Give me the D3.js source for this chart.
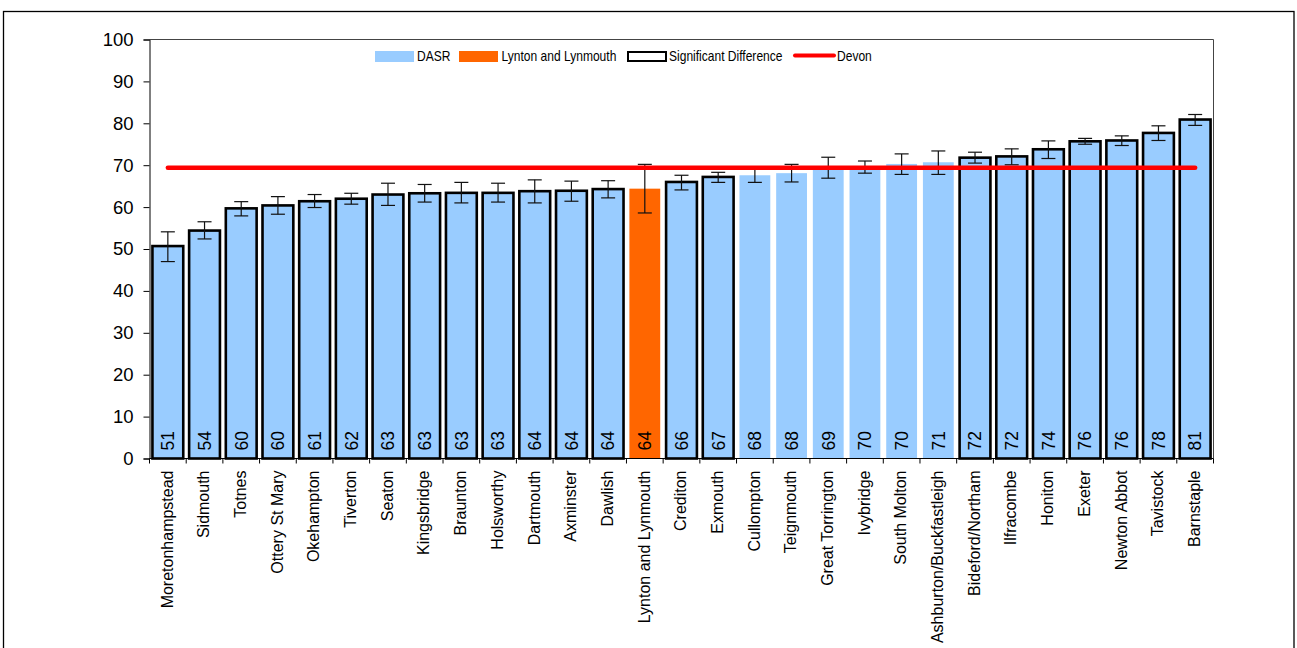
<!DOCTYPE html>
<html>
<head>
<meta charset="utf-8">
<script src="https://cdn.jsdelivr.net/npm/d3@7"></script>
<style>
  html, body { margin: 0; padding: 0; background: #fff; }
  svg { display: block; font-family: "Liberation Sans", Arial, sans-serif; }
</style>
</head>
<body>
<svg id="chart" width="1297" height="648"></svg>
<script>
const categories = ["Moretonhampstead","Sidmouth","Totnes","Ottery St Mary","Okehampton","Tiverton","Seaton","Kingsbridge","Braunton","Holsworthy","Dartmouth","Axminster","Dawlish","Lynton and Lynmouth","Crediton","Exmouth","Cullompton","Teignmouth","Great Torrington","Ivybridge","South Molton","Ashburton/Buckfastleigh","Bideford/Northam","Ilfracombe","Honiton","Exeter","Newton Abbot","Tavistock","Barnstaple"];
const dasr = [50.7,54.4,59.7,60.4,61.4,62.0,63.0,63.3,63.4,63.4,63.8,63.9,64.3,64.4,66.0,67.2,67.6,68.1,69.2,69.6,70.3,70.7,71.8,72.1,73.8,75.7,75.9,77.7,80.9];
const ciLower = [47.0,52.4,57.9,58.3,59.9,60.7,60.4,61.2,61.0,61.2,61.0,61.4,62.2,58.6,64.1,65.9,65.9,66.0,66.9,68.1,67.8,67.8,70.5,70.1,71.6,75.0,74.7,75.9,79.5];
const ciUpper = [54.1,56.5,61.3,62.5,63.0,63.3,65.7,65.4,65.9,65.7,66.5,66.2,66.3,70.2,67.6,68.3,69.4,70.2,71.9,71.0,72.7,73.4,73.1,73.9,75.8,76.4,77.0,79.4,82.1];
const significant = [1,1,1,1,1,1,1,1,1,1,1,1,1,0,1,1,0,0,0,0,0,0,1,1,1,1,1,1,1];
const highlight = "Lynton and Lynmouth";
const devon = 69.4;
const yTicks = [0,10,20,30,40,50,60,70,80,90,100];
const legendLabels = ["DASR","Lynton and Lynmouth","Significant Difference","Devon"];

const svg = d3.select("#chart");
const pLeft = 149.5, pRight = 1213.5, pTop = 39.5, pBottom = 458.5;

// outer frame
svg.append("rect").attr("x",3.5).attr("y",11.5).attr("width",1290.5).attr("height",700)
  .attr("fill","none").attr("stroke","#000").attr("stroke-width",1.3);

const x = d3.scaleBand().domain(categories).range([pLeft, pRight]).paddingInner(0.16).paddingOuter(0.08);
const y = d3.scaleLinear().domain([0,100]).range([pBottom, pTop]);

// plot frame (top and right)
svg.append("path").attr("d",`M${pLeft},${pTop}H${pRight}V${pBottom}`)
  .attr("fill","none").attr("stroke","#444").attr("stroke-width",1);

const data = categories.map((c,i)=>({c, v:dasr[i], lo:ciLower[i], hi:ciUpper[i], sig:significant[i]}));

// bars
const bw = x.bandwidth();
svg.append("g").selectAll("rect").data(data).join("rect")
  .attr("x", d=>x(d.c))
  .attr("y", d=>y(d.v))
  .attr("width", bw)
  .attr("height", d=>y(0)-y(d.v))
  .attr("fill", d=>d.c===highlight ? "#FF6600" : "#99CCFF")
  .attr("stroke", d=>(d.sig && d.c!==highlight) ? "#000" : "none")
  .attr("stroke-width", 2.6);

// error bars
const eb = svg.append("g").attr("stroke","#111").attr("stroke-width",1.2).attr("fill","none");
data.forEach(d=>{
  const cx = x(d.c)+bw/2;
  eb.append("line").attr("x1",cx).attr("x2",cx).attr("y1",y(d.lo)).attr("y2",y(d.hi));
  eb.append("line").attr("x1",cx-7).attr("x2",cx+7).attr("y1",y(d.lo)).attr("y2",y(d.lo));
  eb.append("line").attr("x1",cx-7).attr("x2",cx+7).attr("y1",y(d.hi)).attr("y2",y(d.hi));
});

// value labels
svg.append("g").selectAll("text").data(data).join("text")
  .attr("transform", d=>`translate(${x(d.c)+bw/2},${y(0)-8}) rotate(-90)`)
  .attr("dy","0.36em")
  .attr("text-anchor","start")
  .attr("font-size",17.5)
  .attr("fill","#000")
  .text(d=>Math.round(d.v));

// Devon line
const first = categories[0], last = categories[categories.length-1];
svg.append("line")
  .attr("x1", x(first)+bw/2).attr("x2", x(last)+bw/2)
  .attr("y1", y(devon)).attr("y2", y(devon))
  .attr("stroke","#FF0000").attr("stroke-width",4.5).attr("stroke-linecap","round");

// y axis
const yAxis = svg.append("g").attr("transform",`translate(${pLeft},0)`)
  .call(d3.axisLeft(y).tickValues(yTicks).tickSize(6).tickPadding(10).tickFormat(d3.format("d")));
yAxis.select(".domain").attr("stroke","#000");
yAxis.selectAll(".tick line").attr("stroke","#000");
yAxis.selectAll("text").attr("font-size",18.5).attr("fill","#000").attr("font-family","Liberation Sans, Arial, sans-serif");

// x axis
svg.append("line").attr("x1",pLeft).attr("x2",pRight).attr("y1",pBottom).attr("y2",pBottom).attr("stroke","#000");
const step = x.step();
const edges = categories.map(c=>x(c)-(step-bw)/2).concat([pRight]);
svg.append("g").selectAll("line").data(edges).join("line")
  .attr("x1",d=>d).attr("x2",d=>d).attr("y1",pBottom).attr("y2",pBottom+5).attr("stroke","#000");

svg.append("g").selectAll("text").data(categories).join("text")
  .attr("transform", d=>`translate(${x(d)+bw/2-1},${pBottom+12}) rotate(-90)`)
  .attr("dy","0.36em")
  .attr("text-anchor","end")
  .attr("font-size",16)
  .attr("fill","#000")
  .text(d=>d);

// legend (text slightly condensed horizontally, as in the reference)
const sx = 0.86;
const lg = svg.append("g").attr("font-size",14).attr("fill","#000");
function ltext(xp, t) {
  lg.append("text").attr("transform",`translate(${xp},61) scale(${sx},1)`).text(t);
}
lg.append("rect").attr("x",375).attr("y",51).attr("width",39).attr("height",11).attr("fill","#99CCFF");
ltext(417, legendLabels[0]);
lg.append("rect").attr("x",459).attr("y",51).attr("width",39).attr("height",11).attr("fill","#FF6600");
ltext(501.5, legendLabels[1]);
lg.append("rect").attr("x",628).attr("y",52).attr("width",38).attr("height",9).attr("fill","#fff").attr("stroke","#000").attr("stroke-width",2);
ltext(669, legendLabels[2]);
lg.append("line").attr("x1",795).attr("x2",834).attr("y1",55.5).attr("y2",55.5).attr("stroke","#FF0000").attr("stroke-width",4).attr("stroke-linecap","round");
ltext(837, legendLabels[3]);
</script>
</body>
</html>
